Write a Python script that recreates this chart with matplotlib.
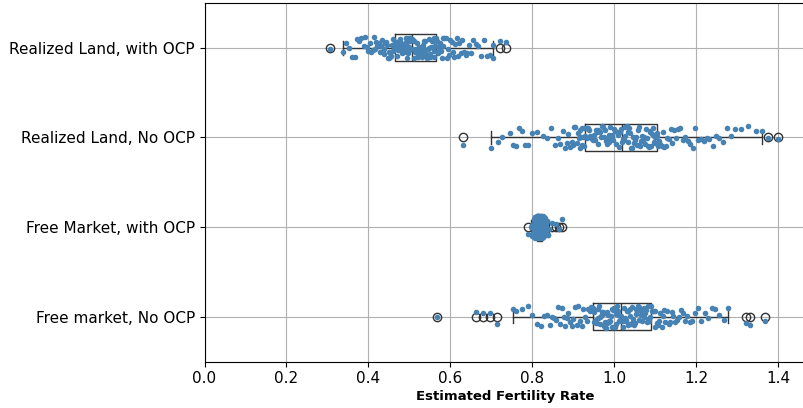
import numpy as np
import matplotlib
matplotlib.use("Agg")
import matplotlib.pyplot as plt
import seaborn as sns
import pandas as pd

categories = ["Realized Land, with OCP", "Realized Land, No OCP",
              "Free Market, with OCP", "Free market, No OCP"]

realized_with_ocp = [
    0.305, 0.337, 0.345, 0.352, 0.36, 0.366, 0.372, 0.378, 0.383, 0.388,
    0.392, 0.396, 0.40, 0.404, 0.407, 0.41, 0.413, 0.416, 0.419, 0.422,
    0.425, 0.428, 0.431, 0.434, 0.437, 0.439, 0.441, 0.443, 0.445, 0.447,
    0.449, 0.451, 0.453, 0.455, 0.457, 0.459, 0.461, 0.462, 0.463, 0.464,
    0.465, 0.466, 0.467, 0.468, 0.469, 0.47, 0.471, 0.472, 0.473, 0.474,
    0.475, 0.476, 0.477, 0.478, 0.479, 0.48, 0.481, 0.482, 0.483, 0.484,
    0.485, 0.486, 0.487, 0.488, 0.489, 0.49, 0.491, 0.492, 0.493, 0.494,
    0.495, 0.496, 0.497, 0.498, 0.499, 0.50, 0.501, 0.502, 0.504, 0.506,
    0.508, 0.509, 0.511, 0.512, 0.514, 0.515, 0.517, 0.518, 0.52, 0.521,
    0.523, 0.524, 0.526, 0.527, 0.529, 0.53, 0.532, 0.533, 0.535, 0.536,
    0.538, 0.539, 0.541, 0.542, 0.544, 0.545, 0.547, 0.548, 0.55, 0.551,
    0.553, 0.554, 0.556, 0.557, 0.559, 0.56, 0.561, 0.562, 0.563, 0.565,
    0.567, 0.569, 0.571, 0.573, 0.575, 0.577, 0.579, 0.581, 0.583, 0.585,
    0.588, 0.591, 0.594, 0.597, 0.60, 0.603, 0.606, 0.609, 0.612, 0.615,
    0.618, 0.621, 0.625, 0.629, 0.633, 0.637, 0.641, 0.646, 0.651, 0.656,
    0.662, 0.668, 0.675, 0.682, 0.69, 0.697, 0.703, 0.705, 0.721, 0.736,
]

realized_no_ocp = [
    0.63, 0.70, 0.715, 0.725, 0.745, 0.752, 0.76, 0.768, 0.775, 0.782,
    0.79, 0.798, 0.81, 0.825, 0.835, 0.845, 0.855, 0.862, 0.868, 0.874,
    0.879, 0.884, 0.888, 0.892, 0.896, 0.899, 0.902, 0.905, 0.908, 0.911,
    0.913, 0.915, 0.917, 0.919, 0.921, 0.922, 0.924, 0.925, 0.927, 0.928,
    0.930, 0.932, 0.934, 0.936, 0.939, 0.941, 0.943, 0.945, 0.948, 0.950,
    0.952, 0.954, 0.957, 0.959, 0.961, 0.963, 0.966, 0.968, 0.970, 0.972,
    0.975, 0.977, 0.979, 0.981, 0.984, 0.986, 0.988, 0.990, 0.993, 0.995,
    0.997, 0.999, 1.002, 1.004, 1.006, 1.008, 1.011, 1.013, 1.015, 1.018,
    1.021, 1.023, 1.025, 1.027, 1.030, 1.032, 1.034, 1.036, 1.039, 1.041,
    1.043, 1.045, 1.048, 1.050, 1.052, 1.054, 1.057, 1.059, 1.061, 1.063,
    1.066, 1.068, 1.070, 1.072, 1.075, 1.077, 1.079, 1.081, 1.084, 1.086,
    1.088, 1.090, 1.092, 1.094, 1.096, 1.097, 1.099, 1.100, 1.102, 1.103,
    1.105, 1.107, 1.109, 1.112, 1.115, 1.118, 1.121, 1.125, 1.129, 1.133,
    1.137, 1.141, 1.146, 1.151, 1.156, 1.161, 1.167, 1.173, 1.179, 1.185,
    1.191, 1.197, 1.204, 1.211, 1.218, 1.225, 1.232, 1.24, 1.248, 1.256,
    1.265, 1.274, 1.284, 1.295, 1.308, 1.325, 1.345, 1.36, 1.375, 1.40,
]

free_with_ocp = [
    0.790, 0.797, 0.799, 0.800, 0.801, 0.802, 0.803, 0.803, 0.804, 0.804,
    0.805, 0.805, 0.806, 0.806, 0.806, 0.807, 0.807, 0.807, 0.808, 0.808,
    0.808, 0.808, 0.809, 0.809, 0.809, 0.809, 0.810, 0.810, 0.810, 0.810,
    0.810, 0.811, 0.811, 0.811, 0.811, 0.811, 0.811, 0.812, 0.812, 0.812,
    0.812, 0.812, 0.812, 0.813, 0.813, 0.813, 0.813, 0.813, 0.813, 0.814,
    0.814, 0.814, 0.814, 0.814, 0.814, 0.815, 0.815, 0.815, 0.815, 0.815,
    0.815, 0.815, 0.816, 0.816, 0.816, 0.816, 0.816, 0.816, 0.816, 0.817,
    0.817, 0.817, 0.817, 0.817, 0.817, 0.817, 0.818, 0.818, 0.818, 0.818,
    0.818, 0.818, 0.818, 0.819, 0.819, 0.819, 0.819, 0.819, 0.819, 0.819,
    0.820, 0.820, 0.820, 0.820, 0.820, 0.820, 0.820, 0.821, 0.821, 0.821,
    0.821, 0.821, 0.821, 0.821, 0.822, 0.822, 0.822, 0.822, 0.822, 0.822,
    0.823, 0.823, 0.823, 0.823, 0.823, 0.823, 0.824, 0.824, 0.824, 0.824,
    0.824, 0.824, 0.825, 0.825, 0.825, 0.825, 0.825, 0.826, 0.826, 0.826,
    0.826, 0.827, 0.827, 0.827, 0.827, 0.828, 0.828, 0.828, 0.828, 0.829,
    0.829, 0.829, 0.830, 0.830, 0.830, 0.831, 0.831, 0.832, 0.832, 0.833,
    0.833, 0.834, 0.835, 0.837, 0.839, 0.840, 0.848, 0.858, 0.866, 0.872,
]

free_no_ocp = [
    0.566, 0.662, 0.68, 0.696, 0.713, 0.753, 0.76, 0.775, 0.79, 0.80,
    0.81, 0.82, 0.828, 0.835, 0.842, 0.848, 0.853, 0.858, 0.863, 0.868,
    0.872, 0.876, 0.88, 0.884, 0.888, 0.892, 0.896, 0.90, 0.904, 0.908,
    0.912, 0.916, 0.92, 0.924, 0.928, 0.932, 0.936, 0.94, 0.943, 0.946,
    0.948, 0.950, 0.951, 0.953, 0.955, 0.956, 0.958, 0.960, 0.961, 0.963,
    0.965, 0.966, 0.968, 0.970, 0.971, 0.973, 0.975, 0.976, 0.978, 0.980,
    0.981, 0.983, 0.985, 0.986, 0.988, 0.990, 0.991, 0.993, 0.995, 0.996,
    0.998, 1.000, 1.001, 1.003, 1.005, 1.006, 1.008, 1.010, 1.012, 1.014,
    1.017, 1.019, 1.021, 1.023, 1.025, 1.026, 1.028, 1.030, 1.032, 1.034,
    1.035, 1.037, 1.039, 1.041, 1.043, 1.044, 1.046, 1.048, 1.050, 1.052,
    1.053, 1.055, 1.057, 1.059, 1.061, 1.062, 1.064, 1.066, 1.068, 1.070,
    1.071, 1.073, 1.075, 1.077, 1.079, 1.081, 1.083, 1.085, 1.087, 1.089,
    1.091, 1.093, 1.095, 1.098, 1.10, 1.103, 1.106, 1.109, 1.112, 1.115,
    1.118, 1.121, 1.124, 1.128, 1.132, 1.136, 1.14, 1.144, 1.148, 1.152,
    1.157, 1.162, 1.167, 1.172, 1.178, 1.184, 1.19, 1.197, 1.204, 1.212,
    1.22, 1.228, 1.237, 1.246, 1.256, 1.267, 1.278, 1.322, 1.332, 1.367,
]

x_label = "Estimated Fertility Rate"

series = [realized_with_ocp, realized_no_ocp, free_with_ocp, free_no_ocp]

fig = plt.figure(figsize=(8.04, 4.08), dpi=100)
ax = fig.add_axes([204.5 / 804, 1 - 361.5 / 408, (805 - 204.5) / 804, (361.5 - 3) / 408])
ax.set_axisbelow(True)

edge = "#333333"
ax.boxplot(series, positions=list(range(len(categories))), orientation="horizontal",
           widths=0.3, patch_artist=False,
           boxprops=dict(color=edge, linewidth=1.0),
           whiskerprops=dict(color=edge, linewidth=1.0),
           capprops=dict(color=edge, linewidth=1.0),
           medianprops=dict(color=edge, linewidth=1.0),
           flierprops=dict(marker="o", markerfacecolor="none",
                           markeredgecolor=edge, markersize=6, markeredgewidth=1.0),
           zorder=2)

df = pd.DataFrame({
    "value": [v for s in series for v in s],
    "category": [c for c, s in zip(categories, series) for _ in s],
})
np.random.seed(3)
sns.stripplot(data=df, x="value", y="category", order=categories, orient="h",
              color="steelblue", size=4, jitter=0.125, ax=ax, zorder=3)

ax.set_ylim(len(categories) - 0.5, -0.5)
ax.set_yticks(range(len(categories)))
ax.set_yticklabels(categories, fontsize=11)
ax.set_ylabel("")
ax.set_xlim(0, 1.465)
ax.tick_params(axis="x", labelsize=11)
ax.set_xlabel(x_label, fontsize=9.5, fontweight="bold", labelpad=3)
ax.grid(True, color="#b0b0b0", linewidth=0.8)
ax.xaxis.grid(True)
ax.yaxis.grid(True)

fig.savefig("out.png", dpi=100)
